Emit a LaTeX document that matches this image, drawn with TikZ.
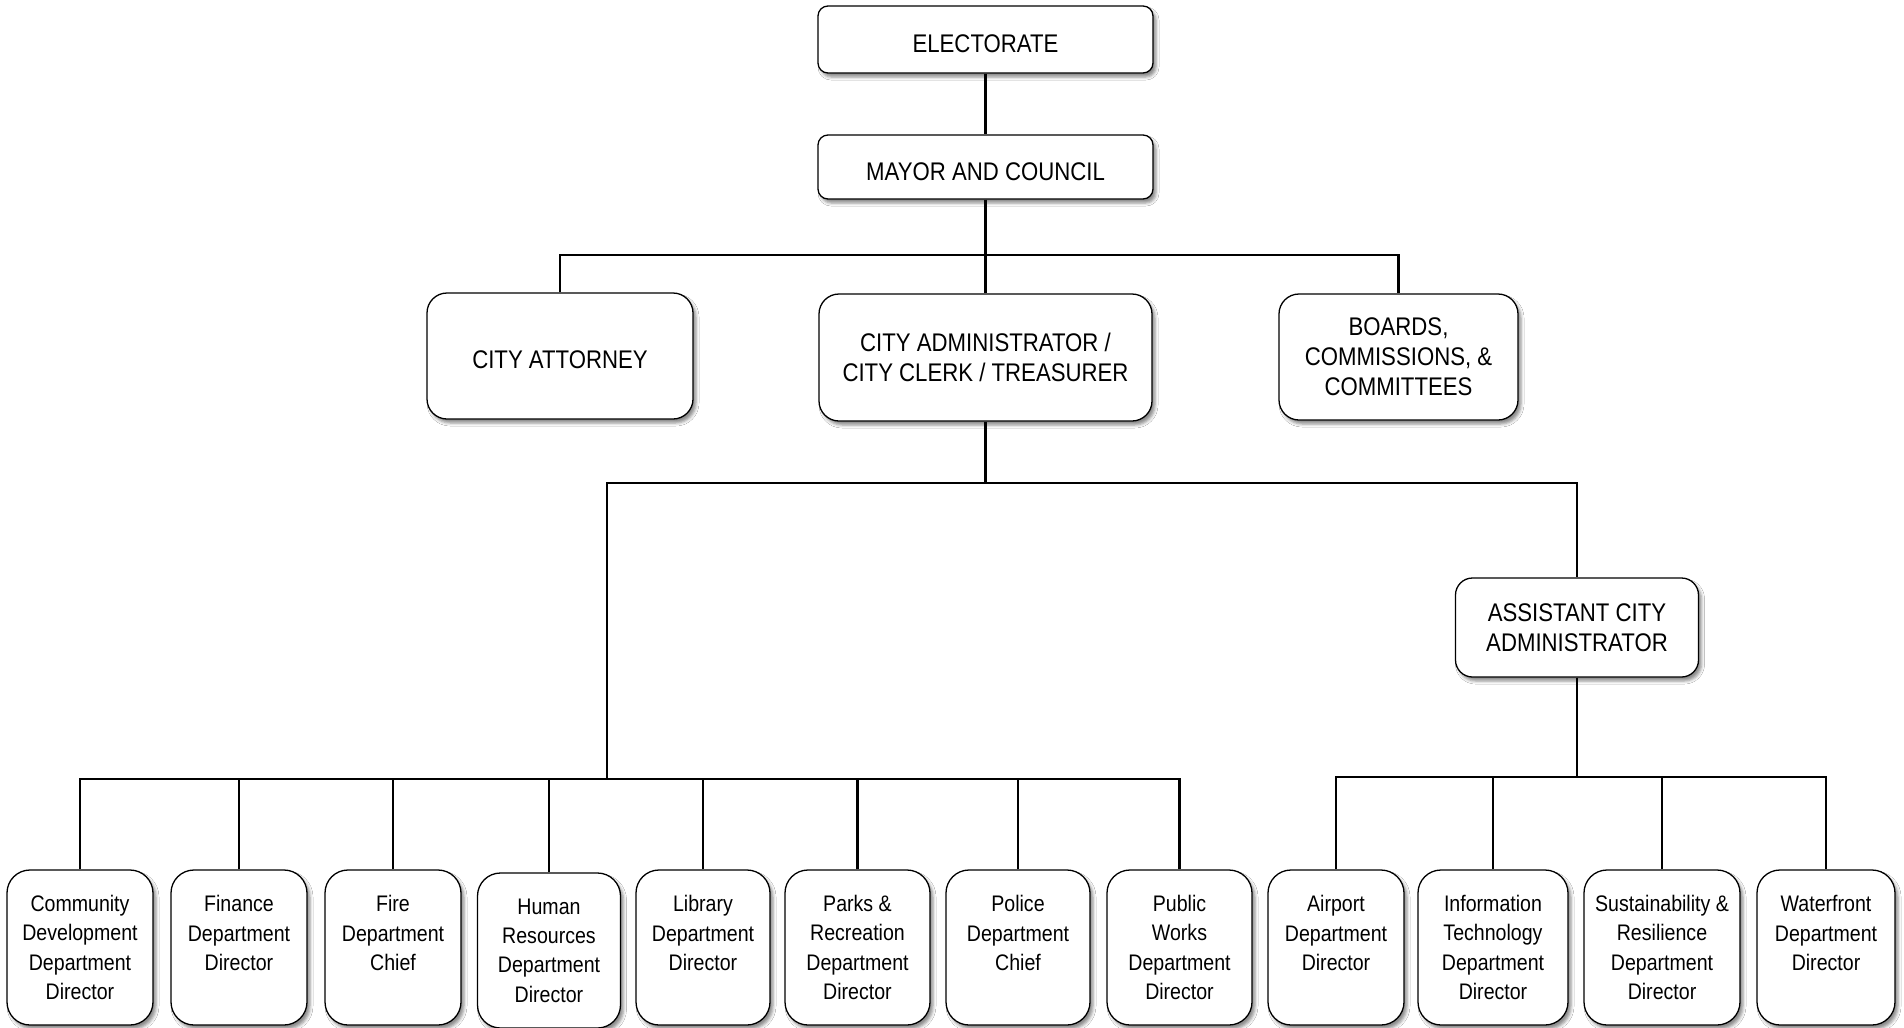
\documentclass[tikz,border=0pt]{standalone}
\usepackage{fontspec}
\setmainfont{Liberation Sans}[FakeStretch=0.87]
\usetikzlibrary{shadows.blur}
\begin{document}
\begin{tikzpicture}[x=1pt,y=-1pt,
  box/.style={draw=black, line width=1.3pt, fill=white, align=center, inner sep=0pt,
    blur shadow={shadow xshift=3pt, shadow yshift=-4pt, shadow blur radius=3pt, shadow opacity=45}},
  topbox/.style={box, rounded corners=10pt, font=\fontsize{25.5}{30}\selectfont, text height=26pt, text depth=0pt},
  midbox/.style={box, rounded corners=20pt, font=\fontsize{25.5}{30}\selectfont},
  asstbox/.style={box, rounded corners=17pt, font=\fontsize{25.5}{30}\selectfont},
  depbox/.style={box, rounded corners=23pt, minimum height=155pt, font=\fontsize{22.5}{29.3}\selectfont},
  conn/.style={draw=black, line width=2.8pt}]
\fill[white] (0,0) rectangle (1904,1028);
\useasboundingbox (0,0) rectangle (1904,1028);

\node[topbox, minimum width=335pt, minimum height=67pt] (elect) at (985.5,39.5) {ELECTORATE};
\node[topbox, minimum width=335pt, minimum height=64pt] (mayor) at (985.5,167) {MAYOR AND COUNCIL};
\node[midbox, minimum width=266pt, minimum height=126pt, text height=24pt, text depth=0pt] (atty) at (560,356) {CITY ATTORNEY};
\node[midbox, minimum width=333pt, minimum height=127pt] (admin) at (985.5,357.5) {CITY ADMINISTRATOR /\\CITY CLERK / TREASURER};
\node[midbox, minimum width=239pt, minimum height=126pt] (boards) at (1398.5,357) {BOARDS,\\COMMISSIONS, \&\\COMMITTEES};
\node[asstbox, minimum width=243pt, minimum height=99pt] (asst) at (1577,627.5) {ASSISTANT CITY\\ADMINISTRATOR};

\node[depbox, minimum width=146pt] (comm) at (80,947.5) {Community\\Development\\Department\\Director};
\node[depbox, minimum width=136pt] (fin) at (239,947.5) {Finance\\Department\\Director\\\mbox{}};
\node[depbox, minimum width=136pt] (fire) at (393,947.5) {Fire\\Department\\Chief\\\mbox{}};
\node[depbox, minimum width=143pt] (hr) at (549,950.5) {Human\\Resources\\Department\\Director};
\node[depbox, minimum width=134pt] (lib) at (703,947.5) {Library\\Department\\Director\\\mbox{}};
\node[depbox, minimum width=145pt] (parks) at (857.5,947.5) {Parks \&\\Recreation\\Department\\Director};
\node[depbox, minimum width=144pt] (police) at (1018,947.5) {Police\\Department\\Chief\\\mbox{}};
\node[depbox, minimum width=145pt] (pub) at (1179.5,947.5) {Public\\Works\\Department\\Director};
\node[depbox, minimum width=136pt] (air) at (1336,947.5) {Airport\\Department\\Director\\\mbox{}};
\node[depbox, minimum width=150pt] (it) at (1493,947.5) {Information\\Technology\\Department\\Director};
\node[depbox, minimum width=156pt] (sust) at (1662,947.5) {Sustainability \&\\Resilience\\Department\\Director};
\node[depbox, minimum width=138pt] (water) at (1826,947.5) {Waterfront\\Department\\Director\\\mbox{}};

\coordinate (b1) at (985.5,255);
\coordinate (b2) at (985.5,483);
\coordinate (b3) at (607,779);
\coordinate (b4) at (1577,777);

\draw[conn] (elect) -- (mayor);
\draw[conn] (mayor) -- (admin);
\draw[conn] (atty.north) |- (b1) -| (boards.north);
\draw[conn] (admin) -- (b2);
\draw[conn] (b3) |- (b2) -| (asst.north);
\draw[conn] (comm.north) |- (b3) -| (pub.north);
\foreach \n in {fin,fire,hr,lib,parks,police} \draw[conn] (\n.north) -- (\n.north |- b3);
\draw[conn] (asst) -- (b4);
\draw[conn] (air.north) |- (b4) -| (water.north);
\foreach \n in {it,sust} \draw[conn] (\n.north) -- (\n.north |- b4);
\end{tikzpicture}
\end{document}
